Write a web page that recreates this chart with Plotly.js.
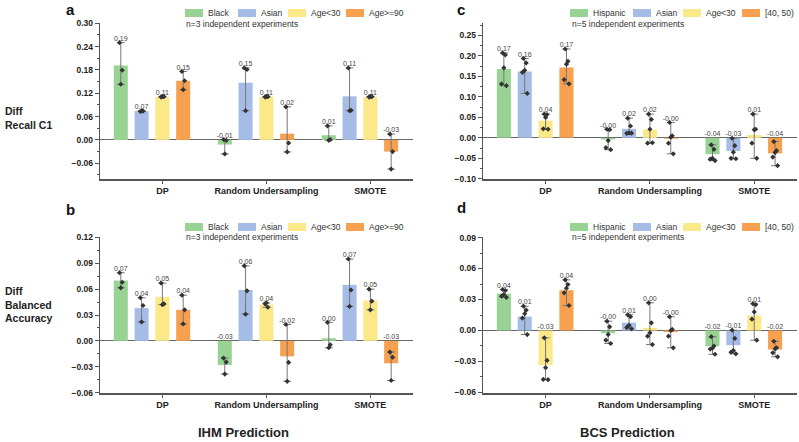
<!DOCTYPE html>
<html><head><meta charset="utf-8">
<script src="https://cdn.plot.ly/plotly-3.0.1.min.js"></script>
<style>html,body{margin:0;padding:0;background:#fff;}#chart{width:799px;height:442px;}</style>
</head><body><div id="chart"></div>
<script>
const methods = ['DP', 'Random Undersampling', 'SMOTE'];
const ihmGroups = ['Black', 'Asian', 'Age<30', 'Age>=90'];
const bcsGroups = ['Hispanic', 'Asian', 'Age<30', '[40, 50)'];
const barColors = ['#98d394', '#a5bde6', '#fbe889', '#f7a04f'];

// Panel a: IHM, Diff Recall C1 (n=3)
const aBlackMean = [0.191, -0.012, 0.012];
const aBlackPts = [[0.250, 0.179, 0.143], [0.001, -0.001, -0.036], [0.036, 0.001, -0.001]];
const aAsianMean = [0.074, 0.147, 0.112];
const aAsianPts = [[0.073, 0.074, 0.075], [0.185, 0.181, 0.075], [0.185, 0.076, 0.075]];
const aYoungMean = [0.111, 0.111, 0.111];
const aYoungPts = [[0.110, 0.111, 0.112], [0.110, 0.111, 0.112], [0.110, 0.111, 0.112]];
const aOldMean = [0.152, 0.016, -0.030];
const aOldPts = [[0.176, 0.152, 0.129], [0.085, -0.008, -0.031], [0.015, -0.030, -0.075]];

// Panel b: IHM, Diff Balanced Accuracy (n=3)
const bBlackMean = [0.070, -0.028, 0.003];
const bBlackPts = [[0.079, 0.068, 0.0615], [-0.020, -0.0246, -0.0385], [0.0215, -0.0046, -0.008]];
const bAsianMean = [0.038, 0.059, 0.065];
const bAsianPts = [[0.050, 0.041, 0.022], [0.087, 0.058, 0.031], [0.095, 0.059, 0.040]];
const bYoungMean = [0.051, 0.042, 0.047];
const bYoungPts = [[0.067, 0.043, 0.042], [0.043, 0.039, 0.044], [0.060, 0.046, 0.036]];
const bOldMean = [0.036, -0.018, -0.026];
const bOldPts = [[0.053, 0.036, 0.0196], [0.019, -0.025, -0.047], [-0.013, -0.019, -0.046]];

// Panel c: BCS, Diff Recall C1 (n=5)
const cHispMean = [0.168, -0.004, -0.040];
const cHispPts = [[0.2075, 0.2026, 0.171, 0.1316, 0.1274], [0.021, 0.020, -0.0066, -0.024, -0.029], [-0.017, -0.028, -0.050, -0.052, -0.0555]];
const cAsianMean = [0.162, 0.022, -0.032];
const cAsianPts = [[0.194, 0.183, 0.165, 0.160, 0.1086], [0.048, 0.029, 0.012, 0.011, 0.0115], [-0.001, -0.019, -0.035, -0.050, -0.051]];
const cYoungMean = [0.042, 0.020, 0.007];
const cYoungPts = [[0.058, 0.057, 0.050, 0.022, 0.021], [0.058, 0.045, 0.021, -0.013, -0.012], [0.058, 0.021, 0.020, -0.013, -0.050]];
const cMidMean = [0.172, -0.002, -0.038];
const cMidPts = [[0.217, 0.187, 0.180, 0.142, 0.132], [0.0375, 0.005, 0.0017, -0.013, -0.039], [-0.009, -0.031, -0.036, -0.047, -0.068]];

// Panel d: BCS, Diff Balanced Accuracy (n=5)
const dHispMean = [0.0357, -0.0027, -0.0152];
const dHispPts = [[0.0397, 0.0387, 0.0348, 0.0332, 0.032], [0.009, 0.0036, -0.0039, -0.0094, -0.0126], [-0.006, -0.015, -0.017, -0.018, -0.023]];
const dAsianMean = [0.0135, 0.0076, -0.0142];
const dAsianPts = [[0.0235, 0.0197, 0.0162, 0.012, -0.0039], [0.0152, 0.0133, 0.005, 0.003, 0.0016], [0.0003, -0.0077, -0.0194, -0.021, -0.0226]];
const dYoungMean = [-0.0334, 0.0026, 0.0145];
const dYoungPts = [[-0.0071, -0.029, -0.036, -0.0474, -0.0476], [0.0268, 0.0074, -0.0023, -0.0055, -0.0136], [0.026, 0.025, 0.018, 0.011, -0.0094]];
const dMidMean = [0.039, -0.0016, -0.0184];
const dMidPts = [[0.049, 0.0445, 0.041, 0.0365, 0.0242], [0.0133, 0.001, 0.0, -0.0055, -0.0168], [-0.0104, -0.0168, -0.0177, -0.0216, -0.0255]];

const FONT = 'Arial, "Liberation Sans", sans-serif';
const W = 799, H = 442;
const px = x => x / W;
const py = y => 1 - y / H;

const panels = [
  {means: [aBlackMean, aAsianMean, aYoungMean, aOldMean], pts: [aBlackPts, aAsianPts, aYoungPts, aOldPts], names: ihmGroups,
   xd: [100, 413], yd: [23, 179], yr: [-0.1005, 0.3005], dt: 0.06, n: 'n=3 independent experiments',
   legX: [185, 238, 288, 346], legY: 13, nX: 184, nY: 24, letter: 'a', lx: 64, ly: 9},
  {means: [bBlackMean, bAsianMean, bYoungMean, bOldMean], pts: [bBlackPts, bAsianPts, bYoungPts, bOldPts], names: ihmGroups,
   xd: [100, 413], yd: [237, 393], yr: [-0.0605, 0.1205], dt: 0.03, n: 'n=3 independent experiments',
   legX: [185, 238, 288, 346], legY: 227, nX: 184, nY: 237, letter: 'b', lx: 64, ly: 209},
  {means: [cHispMean, cAsianMean, cYoungMean, cMidMean], pts: [cHispPts, cAsianPts, cYoungPts, cMidPts], names: bcsGroups,
   xd: [483, 797], yd: [23, 179], yr: [-0.1005, 0.2805], dt: 0.05, n: 'n=5 independent experiments',
   legX: [570, 633, 683, 742], legY: 13, nX: 570, nY: 24, letter: 'c', lx: 455, ly: 9},
  {means: [dHispMean, dAsianMean, dYoungMean, dMidMean], pts: [dHispPts, dAsianPts, dYoungPts, dMidPts], names: bcsGroups,
   xd: [483, 797], yd: [237, 393], yr: [-0.0605, 0.0905], dt: 0.03, n: 'n=5 independent experiments',
   legX: [570, 633, 683, 742], legY: 227, nX: 570, nY: 237, letter: 'd', lx: 455, ly: 207}
];

const jitter = [-0.012, 0.014, 0.0, -0.022, 0.024];
const traces = [];
const layout = {
  width: W, height: H, margin: {l: 0, r: 0, t: 0, b: 0},
  paper_bgcolor: '#fff', plot_bgcolor: 'rgba(0,0,0,0)',
  showlegend: false, barmode: 'overlay',
  font: {family: FONT, color: '#222'},
  shapes: [], annotations: []
};

panels.forEach((p, i) => {
  const sfx = i === 0 ? '' : String(i + 1);
  const xa = 'x' + sfx, ya = 'y' + sfx;
  layout['xaxis' + sfx] = {
    domain: [px(p.xd[0]), px(p.xd[1])], anchor: ya, range: [-0.6, 2.41],
    tickvals: methods.map((m, g) => g), ticktext: methods,
    showline: true, linecolor: '#555', linewidth: 1.5, mirror: false,
    ticks: 'outside', ticklen: 3, tickwidth: 1, tickcolor: '#555',
    tickfont: {family: FONT, size: 9, weight: 'bold', color: '#222'},
    showgrid: false, zeroline: false, fixedrange: true
  };
  layout['yaxis' + sfx] = {
    domain: [py(p.yd[1]), py(p.yd[0])], anchor: xa, range: p.yr,
    tick0: 0, dtick: p.dt, tickformat: '.2f',
    showline: true, linecolor: '#555', linewidth: 1.3,
    ticks: 'outside', ticklen: 4, tickwidth: 1, tickcolor: '#555',
    minor: {dtick: p.dt / 2, tick0: 0, ticks: 'outside', ticklen: 2, tickcolor: '#555', tickwidth: 1, showgrid: false},
    tickfont: {family: FONT, size: 8.5, weight: 'bold', color: '#222'},
    showgrid: false, zeroline: true, zerolinecolor: '#666', zerolinewidth: 1, fixedrange: true
  };

  p.means.forEach((mean, s) => {
    const pts = p.pts[s];
    const xs = methods.map((m, g) => g + (s - 2) * 0.2);
    traces.push({
      type: 'bar', x: xs, y: mean, width: 0.135, xaxis: xa, yaxis: ya,
      marker: {color: barColors[s], line: {width: 0}}, hoverinfo: 'skip',
      error_y: {
        type: 'data', symmetric: false,
        array: pts.map((v, g) => Math.max(0, Math.max(...v) - mean[g])),
        arrayminus: pts.map((v, g) => Math.max(0, mean[g] - Math.min(...v))),
        color: '#777', thickness: 1, width: 4
      }
    });
    const ptx = [], pty = [];
    pts.forEach((v, g) => v.forEach((val, k) => { ptx.push(xs[g] + jitter[k]); pty.push(val); }));
    traces.push({
      type: 'scatter', mode: 'markers', x: ptx, y: pty, xaxis: xa, yaxis: ya,
      marker: {symbol: 'diamond', size: 4, color: '#333'}, hoverinfo: 'skip', cliponaxis: false
    });
    traces.push({
      type: 'scatter', mode: 'text', x: xs,
      y: pts.map((v, g) => Math.max(0, mean[g], Math.max(...v))),
      text: mean.map(v => v.toFixed(2)), textposition: 'top center',
      textfont: {family: FONT, size: 7, color: '#444'},
      xaxis: xa, yaxis: ya, hoverinfo: 'skip', cliponaxis: false
    });

    // legend swatch + label
    layout.shapes.push({type: 'rect', xref: 'paper', yref: 'paper',
      x0: px(p.legX[s]), x1: px(p.legX[s] + 18), y0: py(p.legY + 4), y1: py(p.legY - 4),
      fillcolor: barColors[s], line: {width: 0}});
    layout.annotations.push({xref: 'paper', yref: 'paper', x: px(p.legX[s] + 21), y: py(p.legY),
      xanchor: 'left', yanchor: 'middle', showarrow: false, text: p.names[s],
      font: {family: FONT, size: 8.5, color: '#333'}});
  });

  layout.annotations.push({xref: 'paper', yref: 'paper', x: px(p.nX), y: py(p.nY),
    xanchor: 'left', yanchor: 'middle', showarrow: false, text: p.n,
    font: {family: FONT, size: 8.5, color: '#333'}});
  layout.annotations.push({xref: 'paper', yref: 'paper', x: px(p.lx), y: py(p.ly),
    xanchor: 'left', yanchor: 'middle', showarrow: false, text: '<b>' + p.letter + '</b>',
    font: {family: FONT, size: 15, color: '#111'}});
});

// Row labels and bottom titles
layout.annotations.push({xref: 'paper', yref: 'paper', x: px(3), y: py(118), xanchor: 'left', yanchor: 'middle',
  align: 'left', showarrow: false, text: '<b>Diff<br>Recall C1</b>', font: {family: FONT, size: 10.5, color: '#222'}});
layout.annotations.push({xref: 'paper', yref: 'paper', x: px(3), y: py(304), xanchor: 'left', yanchor: 'middle',
  align: 'left', showarrow: false, text: '<b>Diff<br>Balanced<br>Accuracy</b>', font: {family: FONT, size: 10.5, color: '#222'}});
layout.annotations.push({xref: 'paper', yref: 'paper', x: px(243), y: py(432), xanchor: 'center', yanchor: 'middle',
  showarrow: false, text: '<b>IHM Prediction</b>', font: {family: FONT, size: 13, color: '#222'}});
layout.annotations.push({xref: 'paper', yref: 'paper', x: px(627), y: py(432), xanchor: 'center', yanchor: 'middle',
  showarrow: false, text: '<b>BCS Prediction</b>', font: {family: FONT, size: 13, color: '#222'}});

Plotly.newPlot('chart', traces, layout, {displayModeBar: false, staticPlot: true});
</script></body></html>
